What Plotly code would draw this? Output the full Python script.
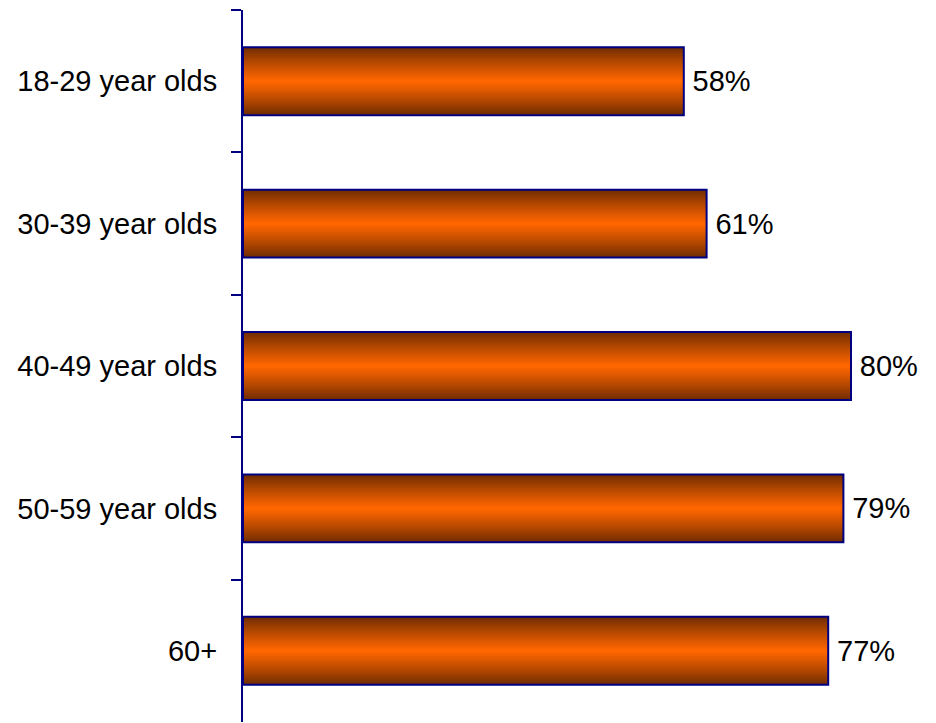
import plotly.graph_objects as go

categories = ["18-29 year olds", "30-39 year olds", "40-49 year olds", "50-59 year olds", "60+"]
values = [58, 61, 80, 79, 77]

BAR_W = 0.477
N_LAYERS = 20
EDGE = (112, 44, 0)
CENTER = (255, 102, 0)

fig = go.Figure()

# gradient: stacked overlay bars, widest (darkest) first, narrowest (brightest) last
for k in range(N_LAYERS):
    t = k / (N_LAYERS - 1)
    s = t ** 0.9
    col = tuple(round(EDGE[i] + (CENTER[i] - EDGE[i]) * s) for i in range(3))
    w = BAR_W * (1 - k / N_LAYERS)
    fig.add_trace(go.Bar(
        y=categories, x=values, orientation="h", width=w,
        marker=dict(color="rgb(%d,%d,%d)" % col, line=dict(width=0)),
        hoverinfo="skip", showlegend=False,
    ))

# outline + labels
fig.add_trace(go.Bar(
    y=categories, x=values, orientation="h", width=BAR_W,
    marker=dict(color="rgba(0,0,0,0)", line=dict(color="#000080", width=2)),
    text=values, texttemplate="\u2009%{x}%", textposition="outside",
    constraintext="none", cliponaxis=False,
    textfont=dict(family="Liberation Sans, Arial", size=29, color="black"),
    showlegend=False,
))

# page body has an 8px margin, so the figure is offset by 8px
fig.update_layout(
    barmode="overlay",
    width=928, height=715,
    margin=dict(l=235, r=9, t=2, b=1, autoexpand=False),
    plot_bgcolor="white", paper_bgcolor="white",
    font=dict(family="Liberation Sans, Arial", size=29, color="black"),
)
fig.update_xaxes(range=[0, 90], visible=False, showgrid=False, zeroline=False,
                 automargin=False)
fig.update_yaxes(
    type="category", categoryorder="array", categoryarray=categories,
    range=[4.5, -0.5], tickson="boundaries", ticks="outside", ticklen=10,
    tickwidth=2, tickcolor="#000080", showline=True, linecolor="#000080",
    linewidth=2, showgrid=False, ticklabelstandoff=18, automargin=False,
    tickfont=dict(family="Liberation Sans, Arial", size=29, color="black"),
)

fig.write_html("out.html")
